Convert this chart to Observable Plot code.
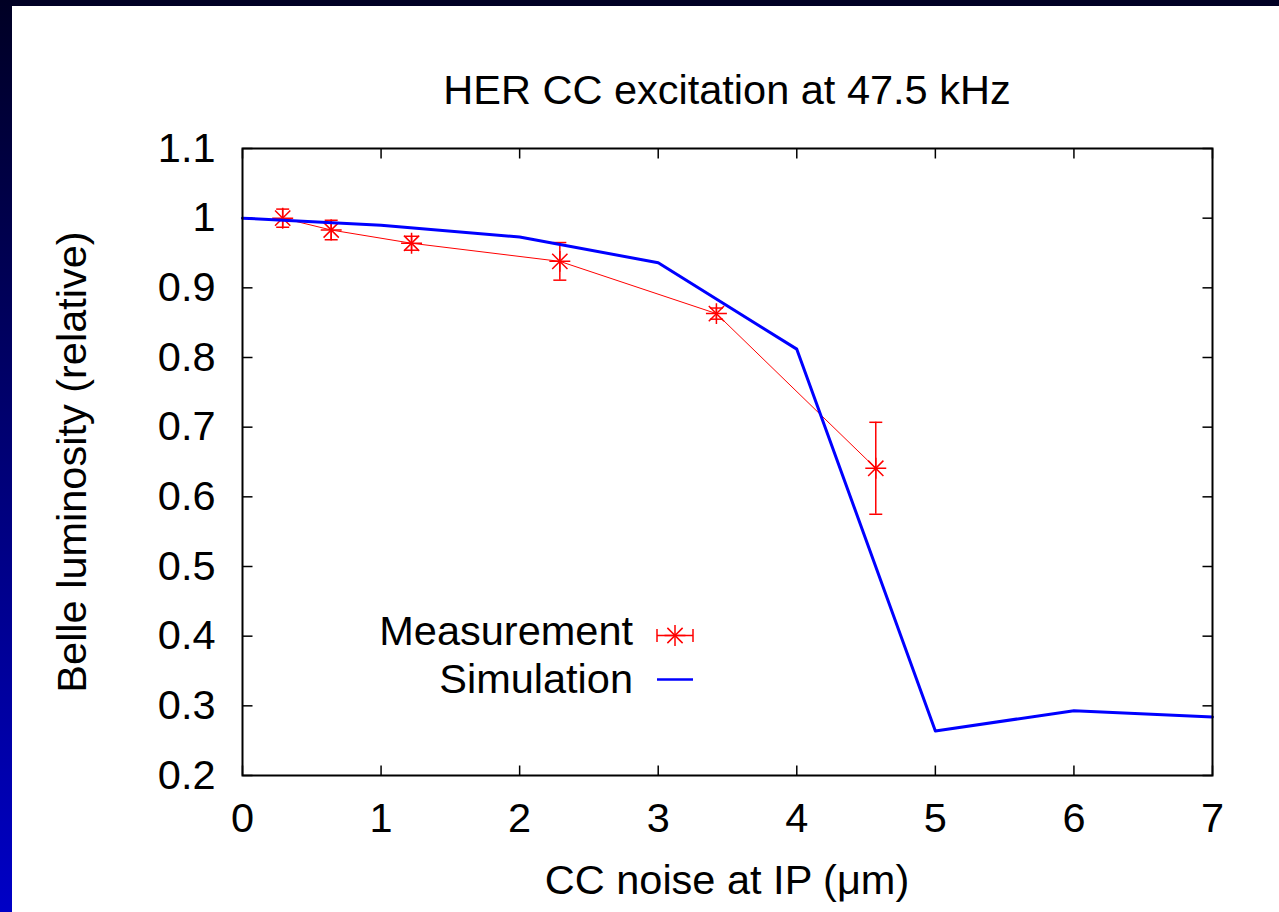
<!DOCTYPE html>
<html>
<head>
<meta charset="utf-8">
<script src="https://cdn.jsdelivr.net/npm/d3@7"></script>
<script src="https://cdn.jsdelivr.net/npm/@observablehq/plot@0.6"></script>
<style>
  html, body { margin: 0; padding: 0; }
  body {
    width: 1279px; height: 912px; overflow: hidden; position: relative;
    background: linear-gradient(to bottom, #000024, #0000c6);
  }
  #panel { position: absolute; left: 12px; top: 6px; right: 0; bottom: 0; background: #ffffff; }
  #chart, #overlay { position: absolute; left: 0; top: 0; }
</style>
</head>
<body>
<div id="panel"></div>
<div id="chart"></div>
<svg id="overlay" width="1279" height="912"></svg>
<script>
// ---- data ----
const measX   = [0.29, 0.64, 1.22, 2.29, 3.42, 4.57];
const measY   = [1.000, 0.983, 0.964, 0.938, 0.863, 0.641];
const measErr = [0.013, 0.014, 0.010, 0.027, 0.008, 0.066];

const simX = [0, 1, 2, 3, 4, 5, 6, 7];
const simY = [1.000, 0.990, 0.973, 0.936, 0.812, 0.264, 0.293, 0.284];

const xTicks = [0, 1, 2, 3, 4, 5, 6, 7];
const yTicks = [0.2, 0.3, 0.4, 0.5, 0.6, 0.7, 0.8, 0.9, 1.0, 1.1];
const yTickLabels = ["0.2", "0.3", "0.4", "0.5", "0.6", "0.7", "0.8", "0.9", "1", "1.1"];

const titleText = "HER CC excitation at 47.5 kHz";
const xLabel = "CC noise at IP (\u03bcm)";
const yLabel = "Belle luminosity (relative)";
const legendLabels = ["Measurement", "Simulation"];

// ---- tables ----
const meas = measX.map((x, i) => ({x, y: measY[i], e: measErr[i]}));
const sim = simX.map((x, i) => ({x, y: simY[i]}));
const xDomain = [0, 7], yDomain = [0.2, 1.1];

const FONT = "'Liberation Sans', Arial, Helvetica, sans-serif";
const FS = 41.5;
const RED = "#ff0000", BLUE = "#0000ff";

// custom symbols
const cap = {draw(ctx) { ctx.moveTo(-6.5, 0); ctx.lineTo(6.5, 0); }};
const tickUp = {draw(ctx) { ctx.moveTo(0, 0); ctx.lineTo(0, -10); }};
const tickDown = {draw(ctx) { ctx.moveTo(0, 0); ctx.lineTo(0, 10); }};
const tickRight = {draw(ctx) { ctx.moveTo(0, 0); ctx.lineTo(10, 0); }};
const tickLeft = {draw(ctx) { ctx.moveTo(0, 0); ctx.lineTo(-10, 0); }};

const chart = Plot.plot({
  width: 1279,
  height: 912,
  marginLeft: 242,
  marginRight: 67,
  marginTop: 148,
  marginBottom: 137,
  style: {background: "transparent", fontFamily: FONT, fontSize: FS + "px", color: "#000"},
  x: {domain: xDomain, ticks: xTicks, tickSize: 0, tickPadding: 27, label: null, tickFormat: d => String(d)},
  y: {domain: yDomain, ticks: yTicks, tickSize: 0, tickPadding: 27, label: null,
      tickFormat: d => yTickLabels[yTicks.findIndex(t => Math.abs(t - d) < 1e-9)]},
  marks: [
    // inward ticks on all four sides
    Plot.dot(xTicks, {x: d => d, y: () => yDomain[0], symbol: tickUp, stroke: "#000", strokeWidth: 1.5, fill: "none"}),
    Plot.dot(xTicks, {x: d => d, y: () => yDomain[1], symbol: tickDown, stroke: "#000", strokeWidth: 1.5, fill: "none"}),
    Plot.dot(yTicks, {y: d => d, x: () => xDomain[0], symbol: tickRight, stroke: "#000", strokeWidth: 1.5, fill: "none"}),
    Plot.dot(yTicks, {y: d => d, x: () => xDomain[1], symbol: tickLeft, stroke: "#000", strokeWidth: 1.5, fill: "none"}),
    // measurement
    Plot.line(meas, {x: "x", y: "y", stroke: RED, strokeWidth: 1}),
    Plot.ruleX(meas, {x: "x", y1: d => d.y - d.e, y2: d => d.y + d.e, stroke: RED, strokeWidth: 1.5}),
    Plot.dot(meas, {x: "x", y: d => d.y - d.e, symbol: cap, stroke: RED, strokeWidth: 1.5, fill: "none"}),
    Plot.dot(meas, {x: "x", y: d => d.y + d.e, symbol: cap, stroke: RED, strokeWidth: 1.5, fill: "none"}),
    Plot.dot(meas, {x: "x", y: "y", symbol: "plus", r: 6.8, stroke: RED, strokeWidth: 1.5, fill: "none"}),
    Plot.dot(meas, {x: "x", y: "y", symbol: "times", r: 7, stroke: RED, strokeWidth: 1.5, fill: "none"}),
    // simulation
    Plot.line(sim, {x: "x", y: "y", stroke: BLUE, strokeWidth: 3}),
    Plot.frame({stroke: "#000", strokeWidth: 2})
  ]
});
document.getElementById("chart").appendChild(chart);

// ---- overlay: title, axis labels, legend ----
const ov = d3.select("#overlay");
const txt = (x, y, s, anchor) => ov.append("text")
  .attr("x", x).attr("y", y).attr("text-anchor", anchor)
  .attr("font-family", FONT).attr("font-size", FS).attr("fill", "#000").text(s);

txt(727, 104, titleText, "middle");
txt(727, 894, xLabel, "middle");
ov.append("text")
  .attr("transform", "translate(86,462) rotate(-90)")
  .attr("text-anchor", "middle")
  .attr("font-family", FONT).attr("font-size", FS).attr("fill", "#000")
  .text(yLabel);

txt(633, 645, legendLabels[0], "end");
txt(633, 692.5, legendLabels[1], "end");

// legend samples
const lg = ov.append("g").attr("fill", "none");
const ry = 635.5, x0 = 657, x1 = 693, xc = (x0 + x1) / 2;
lg.append("line").attr("x1", x0).attr("x2", x1).attr("y1", ry).attr("y2", ry).attr("stroke", RED).attr("stroke-width", 1.5);
lg.append("line").attr("x1", x0).attr("x2", x0).attr("y1", ry - 6.5).attr("y2", ry + 6.5).attr("stroke", RED).attr("stroke-width", 1.5);
lg.append("line").attr("x1", x1).attr("x2", x1).attr("y1", ry - 6.5).attr("y2", ry + 6.5).attr("stroke", RED).attr("stroke-width", 1.5);
lg.append("path").attr("d", d3.symbol(d3.symbolPlus, 6.8 * 6.8 * Math.PI)()).attr("transform", `translate(${xc},${ry})`).attr("stroke", RED).attr("stroke-width", 1.5);
lg.append("path").attr("d", d3.symbol(d3.symbolTimes, 7 * 7 * Math.PI)()).attr("transform", `translate(${xc},${ry})`).attr("stroke", RED).attr("stroke-width", 1.5);
const by = 679.5;
lg.append("line").attr("x1", x0).attr("x2", x1).attr("y1", by).attr("y2", by).attr("stroke", BLUE).attr("stroke-width", 2.5);
</script>
</body>
</html>
